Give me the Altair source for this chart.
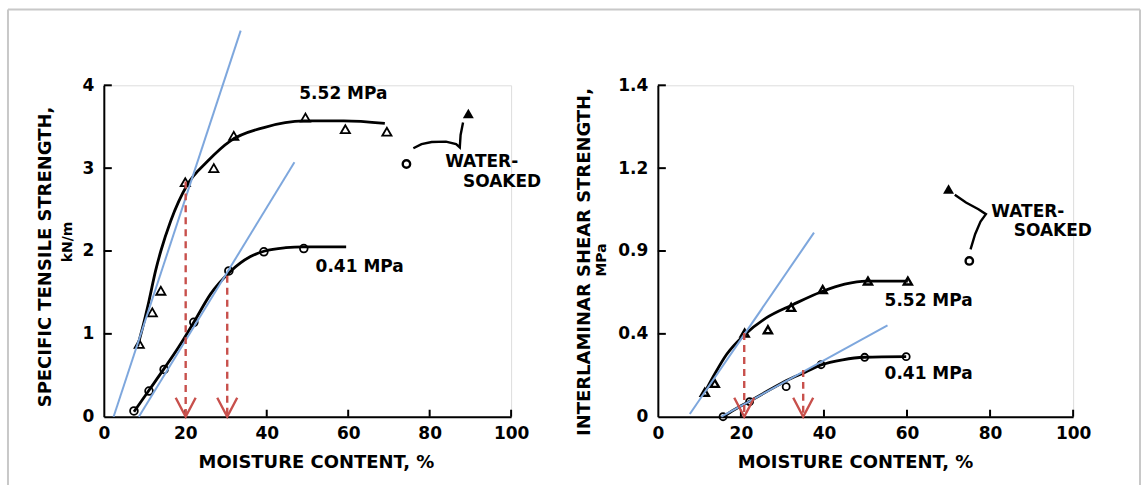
import altair as alt
import pandas as pd

# ---------------- data: left panel (specific tensile strength, kN/m) ----------------
L_TRI_X = [8.7, 11.9, 14.0, 20.0, 27.0, 31.9, 49.5, 59.3, 69.5]
L_TRI_Y = [0.88, 1.26, 1.52, 2.83, 3.00, 3.39, 3.61, 3.47, 3.44]
L_CIR_X = [7.4, 11.1, 14.8, 22.1, 30.7, 39.3, 49.1]
L_CIR_Y = [0.07, 0.31, 0.57, 1.14, 1.76, 1.99, 2.03]
L_HI_CURVE_X = [8.3, 9.8, 11.1, 12.7, 14.0, 16.4, 20.5, 25.4, 31.1, 39.3, 49.1, 58.9, 69.0]
L_HI_CURVE_Y = [0.85, 1.13, 1.40, 1.76, 2.00, 2.36, 2.80, 3.08, 3.33, 3.49, 3.57, 3.57, 3.54]
L_LO_CURVE_X = [7.4, 11.1, 14.8, 18.5, 22.1, 26.2, 31.0, 35.9, 39.5, 44.7, 49.0, 59.5]
L_LO_CURVE_Y = [0.06, 0.32, 0.58, 0.85, 1.14, 1.48, 1.75, 1.93, 2.00, 2.04, 2.05, 2.05]
L_WS_TRI = (89.5, 3.66)
L_WS_CIR = (74.3, 3.05)
L_LINK_X = [76.0, 78.0, 80.5, 84.0, 86.5, 87.4, 87.6, 88.2]
L_LINK_Y = [3.24, 3.29, 3.315, 3.32, 3.29, 3.25, 3.40, 3.55]
L_TAN_X1 = [2.4, 8.6]
L_TAN_Y1 = [0.0, 0.0]
L_TAN_X2 = [33.6, 46.8]
L_TAN_Y2 = [4.66, 3.07]
L_ARROW_X = [20.1, 30.3]
L_ARROW_TOP = [2.84, 1.70]
L_X_TICKS = [0, 20, 40, 60, 80, 100]
L_Y_TICKS = [0, 1, 2, 3, 4]

# ---------------- data: right panel (interlaminar shear strength, MPa) ----------------
R_TRI_X = [11.3, 13.7, 20.9, 26.5, 32.1, 39.7, 50.6, 60.2]
R_TRI_Y = [0.118, 0.161, 0.404, 0.42, 0.528, 0.614, 0.655, 0.655]
R_CIR_X = [15.7, 22.1, 30.9, 39.3, 49.8, 59.8]
R_CIR_Y = [0.0, 0.073, 0.145, 0.251, 0.287, 0.29]
R_HI_CURVE_X = [11.3, 13.8, 16.5, 20.9, 26.1, 32.5, 39.7, 45.0, 50.2, 60.2]
R_HI_CURVE_Y = [0.118, 0.21, 0.299, 0.396, 0.477, 0.541, 0.606, 0.64, 0.655, 0.655]
R_LO_CURVE_X = [15.7, 18.5, 22.1, 26.5, 31.0, 35.5, 39.3, 44.5, 49.8, 59.8]
R_LO_CURVE_Y = [0.0, 0.035, 0.075, 0.125, 0.175, 0.215, 0.25, 0.275, 0.287, 0.29]
R_WS_TRI = (70.0, 1.099)
R_WS_CIR = (75.0, 0.752)
R_LINK_X = [71.5, 74.2, 77.2, 79.0, 77.7, 76.4, 75.3]
R_LINK_Y = [1.072, 1.034, 1.002, 0.978, 0.942, 0.881, 0.808]
R_TAN_X1 = [7.7, 15.3]
R_TAN_Y1 = [0.013, 0.0]
R_TAN_X2 = [37.6, 55.3]
R_TAN_Y2 = [0.889, 0.441]
R_ARROW_X = [20.8, 35.0]
R_ARROW_TOP = [0.404, 0.226]
R_X_TICKS = [0, 20, 40, 60, 80, 100]
R_Y_TICKS = [0, 0.4, 0.8, 1.2, 1.6]
R_Y_LABELS = ["0", "0.4", "0.9", "1.2", "1.4"]

# ---------------- styling ----------------
FONT = "DejaVu Sans"
BLUE = "#7ea7dd"
RED = "#c8504c"
GRAY = "#c8c8c8"
W_L, W_R, H = 408, 416, 332
ARROW_SHAPE = "M-1,-1.9L0,0L1,-1.9"


def xy(xs, ys):
    return pd.DataFrame({"x": xs, "y": ys, "o": list(range(len(xs)))})


def build_panel(W, xticks, ydom, yticks, ylabel_expr, d, titles, frame):
    xs = alt.Scale(domain=[0, 100], nice=False, zero=False)
    ys = alt.Scale(domain=ydom, nice=False, zero=False)
    xaxis = alt.Axis(values=xticks, ticks=False, grid=False, title=None,
                     labelFont=FONT, labelFontSize=17, labelFontWeight="bold",
                     labelColor="black", labelPadding=9, labelFlush=False,
                     domainColor="black", domainWidth=2)
    yargs = dict(values=yticks, ticks=False, grid=False, title=None,
                 labelFont=FONT, labelFontSize=17, labelFontWeight="bold",
                 labelColor="black", labelPadding=10, labelFlush=False,
                 domainColor="black", domainWidth=2)
    if ylabel_expr:
        yargs["labelExpr"] = ylabel_expr
    yaxis = alt.Axis(**yargs)
    X = lambda f="x": alt.X(f + ":Q", scale=xs, axis=xaxis)
    Y = lambda f="y": alt.Y(f + ":Q", scale=ys, axis=yaxis)

    layers = []
    # inward tick marks
    layers.append(alt.Chart(pd.DataFrame({"x": [t for t in xticks if t > 0]}))
                  .mark_rule(color="black", strokeWidth=2)
                  .encode(x=X(), y=alt.value(H), y2=alt.value(H - 7)))
    layers.append(alt.Chart(pd.DataFrame({"y": [t for t in yticks if t > 0]}))
                  .mark_rule(color="black", strokeWidth=2)
                  .encode(y=Y(), x=alt.value(0), x2=alt.value(8)))
    # fitted curves
    for cx, cy in [d["hi_curve"], d["lo_curve"]]:
        layers.append(alt.Chart(xy(cx, cy))
                      .mark_line(color="black", strokeWidth=2.8, interpolate="monotone")
                      .encode(x=X(), y=Y(), order="o:Q"))
    # water-soaked link
    layers.append(alt.Chart(xy(*d["link"]))
                  .mark_line(color="black", strokeWidth=2.4, interpolate="linear")
                  .encode(x=X(), y=Y(), order="o:Q"))
    # data points
    layers.append(alt.Chart(xy(*d["tri"]))
                  .mark_point(shape="triangle-up", filled=False, color="black",
                              size=d["tsize"], strokeWidth=d["tstroke"], opacity=1)
                  .encode(x=X(), y=Y()))
    layers.append(alt.Chart(xy(*d["cir"]))
                  .mark_point(shape="circle", filled=False, color="black",
                              size=d["csize"], strokeWidth=1.8, opacity=1)
                  .encode(x=X(), y=Y()))
    layers.append(alt.Chart(xy([d["ws_tri"][0]], [d["ws_tri"][1]]))
                  .mark_point(shape="triangle-up", filled=True, color="black",
                              size=120, opacity=1)
                  .encode(x=X(), y=Y()))
    layers.append(alt.Chart(xy([d["ws_cir"][0]], [d["ws_cir"][1]]))
                  .mark_point(shape="circle", filled=False, color="black",
                              size=55, strokeWidth=2.4, opacity=1)
                  .encode(x=X(), y=Y()))
    # blue tangent lines
    tan = pd.DataFrame({"x": d["tan"][0], "y": d["tan"][1],
                        "x2": d["tan"][2], "y2": d["tan"][3]})
    layers.append(alt.Chart(tan).mark_rule(color=BLUE, strokeWidth=2)
                  .encode(x=X(), y=Y(), x2="x2:Q", y2="y2:Q"))
    # red dashed arrows
    arr = pd.DataFrame({"x": d["arrow"][0], "y": d["arrow"][1],
                        "y0": [0.0] * len(d["arrow"][0])})
    layers.append(alt.Chart(arr).mark_rule(color=RED, strokeWidth=2.4, strokeDash=[7, 5])
                  .encode(x=X(), y=Y(), y2="y0:Q"))
    layers.append(alt.Chart(arr).mark_point(shape=ARROW_SHAPE, filled=False, color=RED,
                                            size=400, strokeWidth=2.4, opacity=1)
                  .encode(x=X(), y=Y("y0")))
    # in-plot labels
    lab = pd.DataFrame(d["labels"], columns=["x", "y", "t"])
    layers.append(alt.Chart(lab).mark_text(align="left", baseline="middle", font=FONT,
                                           fontSize=17, fontWeight="bold", color="black")
                  .encode(x=X(), y=Y(), text="t:N"))
    # axis titles (text)
    for (t, px, py, ang, fs) in titles:
        layers.append(alt.Chart(pd.DataFrame({"t": [t]}))
                      .mark_text(align="center", baseline="middle", font=FONT, fontSize=fs,
                                 fontWeight="bold", color="black", angle=ang)
                      .encode(text="t:N", x=alt.value(px), y=alt.value(py)))
    # outer light frame
    for (x1, y1, x2, y2) in frame:
        layers.append(alt.Chart(pd.DataFrame({"k": [0]}))
                      .mark_rule(color=GRAY, strokeWidth=2)
                      .encode(x=alt.value(x1), y=alt.value(y1), x2=alt.value(x2), y2=alt.value(y2)))
    return alt.layer(*layers).properties(width=W, height=H)


left_d = dict(
    hi_curve=(L_HI_CURVE_X, L_HI_CURVE_Y), lo_curve=(L_LO_CURVE_X, L_LO_CURVE_Y),
    link=(L_LINK_X, L_LINK_Y), tri=(L_TRI_X, L_TRI_Y), cir=(L_CIR_X, L_CIR_Y),
    ws_tri=L_WS_TRI, ws_cir=L_WS_CIR, tsize=85, tstroke=1.8, csize=60,
    tan=(L_TAN_X1, L_TAN_Y1, L_TAN_X2, L_TAN_Y2), arrow=(L_ARROW_X, L_ARROW_TOP),
    labels=[(48.0, 3.9, "5.52 MPa"), (52.0, 1.81, "0.41 MPa"),
            (83.8, 3.075, "WATER-"), (88.2, 2.83, "SOAKED")],
)
right_d = dict(
    hi_curve=(R_HI_CURVE_X, R_HI_CURVE_Y), lo_curve=(R_LO_CURVE_X, R_LO_CURVE_Y),
    link=(R_LINK_X, R_LINK_Y), tri=(R_TRI_X, R_TRI_Y), cir=(R_CIR_X, R_CIR_Y),
    ws_tri=R_WS_TRI, ws_cir=R_WS_CIR, tsize=65, tstroke=2.4, csize=50,
    tan=(R_TAN_X1, R_TAN_Y1, R_TAN_X2, R_TAN_Y2), arrow=(R_ARROW_X, R_ARROW_TOP),
    labels=[(54.6, 0.561, "5.52 MPa"), (54.6, 0.205, "0.41 MPa"),
            (80.3, 0.986, "WATER-"), (85.7, 0.897, "SOAKED")],
)

lbl_list = "[" + ",".join("'" + s + "'" for s in R_Y_LABELS) + "]"
right_expr = lbl_list + "[round(datum.value / 0.4)]"

left = build_panel(
    W_L, L_X_TICKS, [0, 4], L_Y_TICKS, None, left_d,
    titles=[("SPECIFIC TENSILE STRENGTH,", -58, 172, 270, 18),
            ("kN/m", -36, 157, 270, 14),
            ("MOISTURE CONTENT, %", 213, 378, 0, 18)],
    frame=[(-96, -76, 1038, -76), (-96, -76, -96, 420)],
)
right = build_panel(
    W_R, R_X_TICKS, [0, 1.6], R_Y_TICKS, right_expr, right_d,
    titles=[("INTERLAMINAR SHEAR STRENGTH,", -73, 177, 270, 18),
            ("MPa", -56, 175, 270, 14),
            ("MOISTURE CONTENT, %", 198, 378, 0, 18)],
    frame=[(483, -76, 483, 420)],
)

chart = alt.hconcat(left, right, spacing=147, bounds="flush").properties(
    padding={"left": 6, "top": 7, "right": 2, "bottom": 2}
).configure_view(stroke=None).configure(background="white")

chart.save("out.html", embed_options={"renderer": "svg", "actions": False})
